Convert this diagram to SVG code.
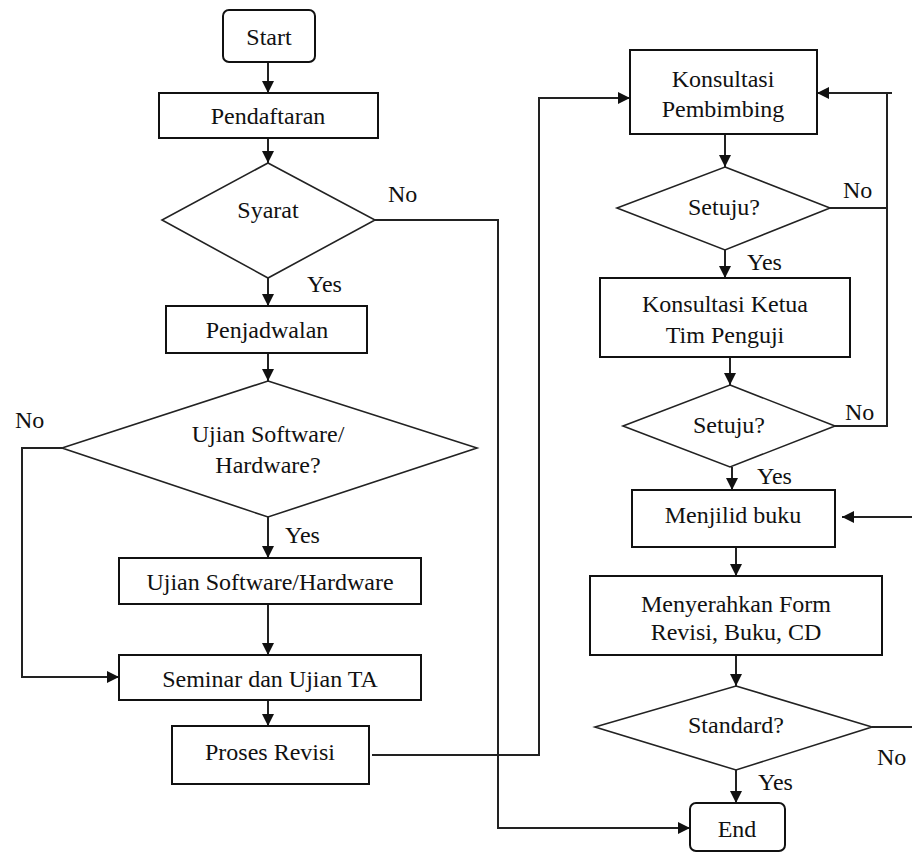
<svg xmlns="http://www.w3.org/2000/svg" width="912" height="852" viewBox="0 0 912 852">
<defs>
<marker id="arr" markerUnits="userSpaceOnUse" markerWidth="12" markerHeight="12" refX="12" refY="6" orient="auto">
<path d="M0,0 L12,6 L0,12 z" fill="#111"/>
</marker>
<style>
.box{fill:#fff;stroke:#111;stroke-width:2}
.dia{fill:#fff;stroke:#222;stroke-width:1.6}
.t{font-size:24px;fill:#111;text-anchor:middle}
.l{font-size:24px;fill:#111}
.c{fill:none;stroke:#222;stroke-width:2}
.ca{fill:none;stroke:#222;stroke-width:2;marker-end:url(#arr)}
</style>
</defs>
<rect width="912" height="852" fill="#fff"/>
<g id="connectors">
<path class="ca" d="M268,62 V93"/>
<path class="ca" d="M268,138 V163"/>
<path class="ca" d="M268,278 V306"/>
<path class="ca" d="M268,353 V381"/>
<path class="ca" d="M268,517 V558"/>
<path class="ca" d="M268,604 V655"/>
<path class="ca" d="M62,448 H22 V677 H119"/>
<path class="ca" d="M268,700 V726"/>
<path class="ca" d="M372,755 H539 V98 H630"/>
<path class="ca" d="M375,220 H498 V828 H690"/>
<path class="ca" d="M725,134 V167"/>
<path class="c" d="M830,208 H887"/>
<path class="ca" d="M835,426 H887 V93 H817"/>
<path class="c" d="M887,93 H892"/>
<path class="ca" d="M725,250 V278"/>
<path class="ca" d="M730,357 V385"/>
<path class="ca" d="M732,467 V490"/>
<path class="ca" d="M912,517 H842"/>
<path class="ca" d="M736,547 V576"/>
<path class="ca" d="M736,655 V686"/>
<path class="c" d="M872,727 H912"/>
<path class="ca" d="M736,770 V803"/>
</g>
<g font-family="'Liberation Serif', 'DejaVu Serif', serif">
<g id="start"><rect class="box" x="223" y="10" width="92" height="52" rx="6"/><text class="t" x="269" y="45">Start</text></g>
<g id="pendaftaran"><rect class="box" x="159" y="93" width="219" height="45"/><text class="t" x="268" y="124">Pendaftaran</text></g>
<g id="syarat"><polygon class="dia" points="268,163 375,220 268,278 162,220"/><text class="t" x="268" y="218">Syarat</text></g>
<g id="penjadwalan"><rect class="box" x="166" y="306" width="201" height="47"/><text class="t" x="267" y="338">Penjadwalan</text></g>
<g id="ujian-dec"><polygon class="dia" points="268,381 477,448 268,517 62,448"/><text class="t" x="268" y="442">Ujian Software/</text><text class="t" x="268" y="473">Hardware?</text></g>
<g id="ujian"><rect class="box" x="119" y="558" width="302" height="46"/><text class="t" x="270" y="590">Ujian Software/Hardware</text></g>
<g id="seminar"><rect class="box" x="119" y="655" width="302" height="45"/><text class="t" x="270" y="687">Seminar dan Ujian TA</text></g>
<g id="proses"><rect class="box" x="172" y="726" width="197" height="58"/><text class="t" x="270" y="760">Proses Revisi</text></g>
<g id="konsultasi-pembimbing"><rect class="box" x="630" y="50" width="187" height="84"/><text class="t" x="723" y="87">Konsultasi</text><text class="t" x="723" y="117">Pembimbing</text></g>
<g id="setuju1"><polygon class="dia" points="725,167 830,208 725,250 617,208"/><text class="t" x="724" y="215">Setuju?</text></g>
<g id="konsultasi-ketua"><rect class="box" x="600" y="278" width="250" height="79"/><text class="t" x="725" y="312">Konsultasi Ketua</text><text class="t" x="725" y="343">Tim Penguji</text></g>
<g id="setuju2"><polygon class="dia" points="730,385 835,426 730,467 623,426"/><text class="t" x="729" y="433">Setuju?</text></g>
<g id="menjilid"><rect class="box" x="632" y="490" width="203" height="57"/><text class="t" x="733" y="523">Menjilid buku</text></g>
<g id="menyerahkan"><rect class="box" x="590" y="576" width="292" height="79"/><text class="t" x="736" y="612">Menyerahkan Form</text><text class="t" x="736" y="640">Revisi, Buku, CD</text></g>
<g id="standard"><polygon class="dia" points="736,686 872,727 736,770 595,727"/><text class="t" x="736" y="733">Standard?</text></g>
<g id="end"><rect class="box" x="690" y="803" width="95" height="48" rx="6"/><text class="t" x="737" y="837">End</text></g>
<g id="labels">
<text class="l" x="388" y="202">No</text>
<text class="l" x="307" y="292">Yes</text>
<text class="l" x="15" y="428">No</text>
<text class="l" x="285" y="543">Yes</text>
<text class="l" x="843" y="198">No</text>
<text class="l" x="747" y="270">Yes</text>
<text class="l" x="845" y="420">No</text>
<text class="l" x="757" y="484">Yes</text>
<text class="l" x="877" y="765">No</text>
<text class="l" x="758" y="790">Yes</text>
</g>
</g>
</svg>
